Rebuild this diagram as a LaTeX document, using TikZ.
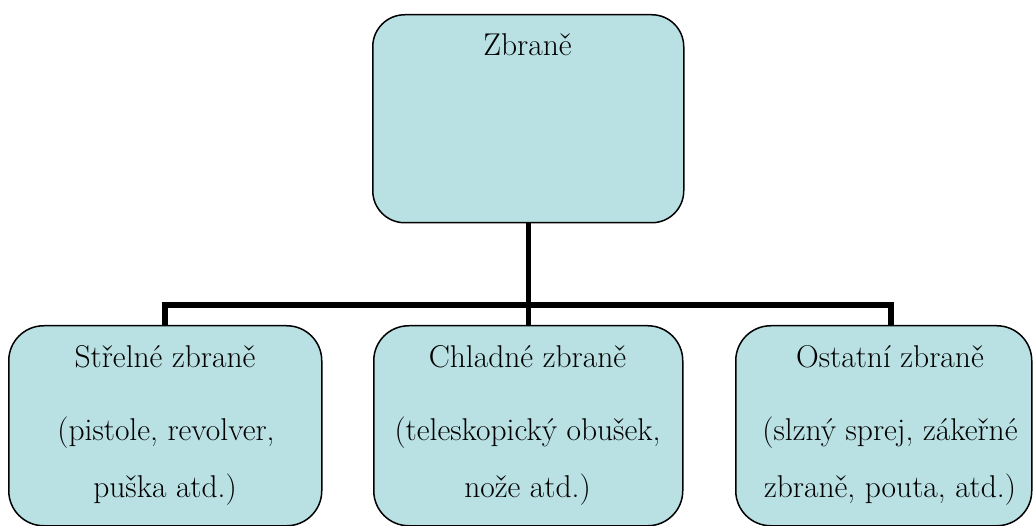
\documentclass[tikz,border=0pt]{standalone}
\definecolor{boxfill}{RGB}{185,224,227}
\begin{document}
\begin{tikzpicture}[x=1pt,y=-1pt,
  box/.style={draw=black, line width=1.5pt, fill=boxfill, inner sep=0pt, anchor=north west},
  conn/.style={line width=5.5pt},
  lbl/.style={anchor=base, font=\rmfamily\fontsize{31.5}{38}\selectfont, inner sep=0pt}]
\useasboundingbox[fill=white] (0,0) rectangle (1033,526);
% boxes
\node[box, rounded corners=32pt, minimum width=311pt, minimum height=208pt] (top) at (372,14) {};
\node[box, rounded corners=35pt, minimum width=313pt, minimum height=200pt] (left) at (8,325) {};
\node[box, rounded corners=35pt, minimum width=309pt, minimum height=200pt] (mid) at (373,325) {};
\node[box, rounded corners=35pt, minimum width=296pt, minimum height=200pt] (right) at (735,325) {};
% connectors
\coordinate (barL) at (165,305);
\coordinate (barR) at (891,305);
\draw[conn] (top.south) -- (mid.north);
\draw[conn] (barL |- left.north) -- (barL) -- (barR) -- (barR |- right.north);
% labels
\node[lbl] (t0) at (527.5,56) {Zbraně};
\node[lbl] (l1) at (165,367) {Střelné zbraně};
\node[lbl] (l2) at (166,440) {(pistole, revolver,};
\node[lbl] (l3) at (165,497) {puška atd.)};
\node[lbl] (m1) at (527.5,367) {Chladné zbraně};
\node[lbl] (m2) at (527.5,440) {(teleskopický obušek,};
\node[lbl] (m3) at (527.5,497) {nože atd.)};
\node[lbl] (r1) at (890,367) {Ostatní zbraně};
\node[lbl] (r2) at (890,440) {(slzný sprej, zákeřné};
\node[lbl] (r3) at (890,497) {zbraně, pouta, atd.)};
\end{tikzpicture}
\end{document}
